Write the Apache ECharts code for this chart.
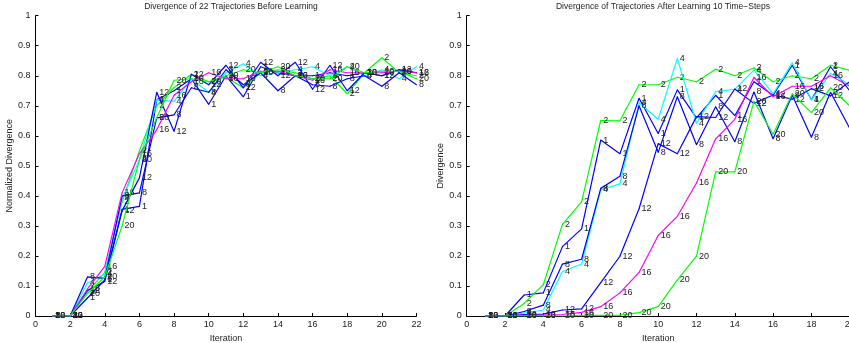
<!DOCTYPE html>
<html>
<head>
<meta charset="utf-8">
<script src="https://cdn.jsdelivr.net/npm/echarts@6/dist/echarts.min.js"></script>
<style>html,body{margin:0;padding:0;background:#fff;}#c{width:849px;height:343px;}</style>
</head>
<body>
<div id="c"></div>
<script>
// ---------- data ----------
const trajectoryIds = ['1', '2', '4', '8', '12', '16', '20'];
const xTicks = [0, 2, 4, 6, 8, 10, 12, 14, 16, 18, 20, 22];
const yTicks = [0, 0.1, 0.2, 0.3, 0.4, 0.5, 0.6, 0.7, 0.8, 0.9, 1];

// Before learning (iterations 1..22)
const iterBefore = [1,2,3,4,5,6,7,8,9,10,11,12,13,14,15,16,17,18,19,20,21,22];
const before1  = [0,0,0.06,0.12,0.355,0.365,0.72,0.75,0.79,0.705,0.80,0.73,0.83,0.81,0.80,0.80,0.81,0.80,0.81,0.80,0.82,0.81];
const before2  = [0,0,0.08,0.145,0.38,0.55,0.70,0.76,0.805,0.78,0.795,0.76,0.81,0.82,0.81,0.79,0.80,0.74,0.81,0.86,0.81,0.80];
const before4  = [0,0,0.11,0.14,0.39,0.52,0.72,0.715,0.79,0.745,0.81,0.84,0.80,0.81,0.82,0.83,0.80,0.83,0.80,0.82,0.79,0.83];
const before8  = [0,0,0.13,0.125,0.40,0.41,0.66,0.67,0.76,0.745,0.82,0.77,0.81,0.75,0.80,0.77,0.765,0.79,0.80,0.765,0.81,0.77];
const before12 = [0,0,0.085,0.115,0.35,0.46,0.745,0.615,0.805,0.77,0.835,0.76,0.845,0.80,0.845,0.755,0.835,0.75,0.81,0.80,0.82,0.81];
const before16 = [0,0,0.09,0.165,0.41,0.54,0.62,0.735,0.78,0.81,0.79,0.79,0.815,0.815,0.80,0.785,0.82,0.81,0.81,0.81,0.815,0.81];
const before20 = [0,0,0.075,0.13,0.30,0.52,0.66,0.785,0.79,0.78,0.80,0.82,0.81,0.83,0.80,0.79,0.79,0.83,0.81,0.815,0.815,0.79];

// After learning 10 time-steps (iterations 1..20)
const iterAfter = [1,2,3,4,5,6,7,8,9,10,11,12,13,14,15,16,17,18,19,20];
const after1  = [0,0,0.07,0.077,0.231,0.29,0.586,0.54,0.725,0.608,0.753,0.66,0.735,0.667,0.78,0.735,0.835,0.72,0.83,0.75];
const after2  = [0,0,0.042,0.104,0.305,0.38,0.651,0.65,0.77,0.77,0.795,0.78,0.822,0.80,0.826,0.78,0.80,0.79,0.835,0.818];
const after4  = [0,0,0.01,0.02,0.148,0.173,0.42,0.44,0.71,0.655,0.858,0.642,0.747,0.755,0.819,0.74,0.843,0.72,0.808,0.77];
const after8  = [0,0,0.015,0.036,0.173,0.189,0.425,0.465,0.70,0.545,0.73,0.57,0.697,0.58,0.746,0.59,0.735,0.595,0.745,0.625];
const after12 = [0,0,0.005,0.006,0.02,0.024,0.111,0.199,0.357,0.574,0.54,0.664,0.661,0.756,0.708,0.736,0.722,0.757,0.733,0.78];
const after16 = [0,0,0.002,0.003,0.005,0.012,0.031,0.077,0.145,0.268,0.332,0.443,0.59,0.655,0.795,0.73,0.765,0.765,0.80,0.765];
const after20 = [0,0,0,0,0,0.001,0.002,0.003,0.011,0.031,0.12,0.199,0.48,0.48,0.715,0.605,0.74,0.677,0.76,0.70];

const beforeSeries = [before1, before2, before4, before8, before12, before16, before20];
const afterSeries  = [after1, after2, after4, after8, after12, after16, after20];
const trajColors = ['#0000ff', '#00ff00', '#00ffff', '#0000ff', '#0000ff', '#ff00ff', '#00ff00'];

// ---------- chart ----------
const FONT = "'Liberation Sans', Arial, Helvetica, sans-serif";
const chart = echarts.init(document.getElementById('c'), null, {renderer: 'canvas'});

function xAxisCfg(gridIndex, max) {
  return {
    type: 'value', gridIndex: gridIndex, min: 0, max: max, interval: 2,
    name: 'Iteration', nameLocation: 'middle', nameGap: 11,
    nameTextStyle: {fontFamily: FONT, fontSize: 9, color: '#222'},
    axisLine: {show: true, onZero: false, lineStyle: {color: '#000', width: 1}},
    axisTick: {show: true, inside: true, length: 3, lineStyle: {color: '#000'}},
    axisLabel: {fontFamily: FONT, fontSize: 9, color: '#222', margin: 4, showMaxLabel: true, showMinLabel: true},
    splitLine: {show: false}
  };
}
function yAxisCfg(gridIndex, name, gap) {
  return {
    type: 'value', gridIndex: gridIndex, min: 0, max: 1, interval: 0.1,
    name: name, nameLocation: 'middle', nameGap: gap,
    nameTextStyle: {fontFamily: FONT, fontSize: 9, color: '#222'},
    axisLine: {show: true, lineStyle: {color: '#000', width: 1}},
    axisTick: {show: true, inside: true, length: 3, lineStyle: {color: '#000'}},
    axisLabel: {fontFamily: FONT, fontSize: 9, color: '#222', margin: 5},
    splitLine: {show: false}
  };
}

function makeSeries(arrs, iters, axisIndex) {
  return arrs.map(function (vals, i) {
    return {
      type: 'line', name: trajectoryIds[i], xAxisIndex: axisIndex, yAxisIndex: axisIndex,
      data: vals.map(function (v, k) { return [iters[k], v]; }),
      showSymbol: true, showAllSymbol: true, symbol: 'circle', symbolSize: 1,
      lineStyle: {color: trajColors[i], width: 1.2},
      itemStyle: {color: trajColors[i]},
      clip: true, silent: true, animation: false,
      label: {
        show: true, position: 'right', distance: 2,
        formatter: trajectoryIds[i],
        fontFamily: FONT, fontSize: 9, color: '#222'
      },
      labelLayout: {hideOverlap: false},
      z: 2 + i
    };
  });
}

const option = {
  animation: false,
  backgroundColor: '#fff',
  title: [
    {text: 'Divergence of 22 Trajectories Before Learning', left: 226, top: -3, textAlign: 'center',
     textStyle: {fontFamily: FONT, fontSize: 8.5, fontWeight: 'normal', color: '#222'}},
    {text: 'Divergence of Trajectories After Learning 10 Time\u2212Steps', left: 658, top: -3, textAlign: 'center',
     textStyle: {fontFamily: FONT, fontSize: 8.5, fontWeight: 'normal', color: '#222'}}
  ],
  grid: [
    {left: 35.5, top: 15.7, width: 381, height: 300.3, containLabel: false, outerBoundsMode: 'none'},
    {left: 466.7, top: 15.7, width: 383, height: 300.3, containLabel: false, outerBoundsMode: 'none'}
  ],
  xAxis: [xAxisCfg(0, 22), xAxisCfg(1, 20)],
  yAxis: [yAxisCfg(0, 'Normalized Divergence', 16.5), yAxisCfg(1, 'Divergence', 16)],
  series: makeSeries(beforeSeries, iterBefore, 0).concat(makeSeries(afterSeries, iterAfter, 1))
};
chart.setOption(option);
</script>
</body>
</html>
